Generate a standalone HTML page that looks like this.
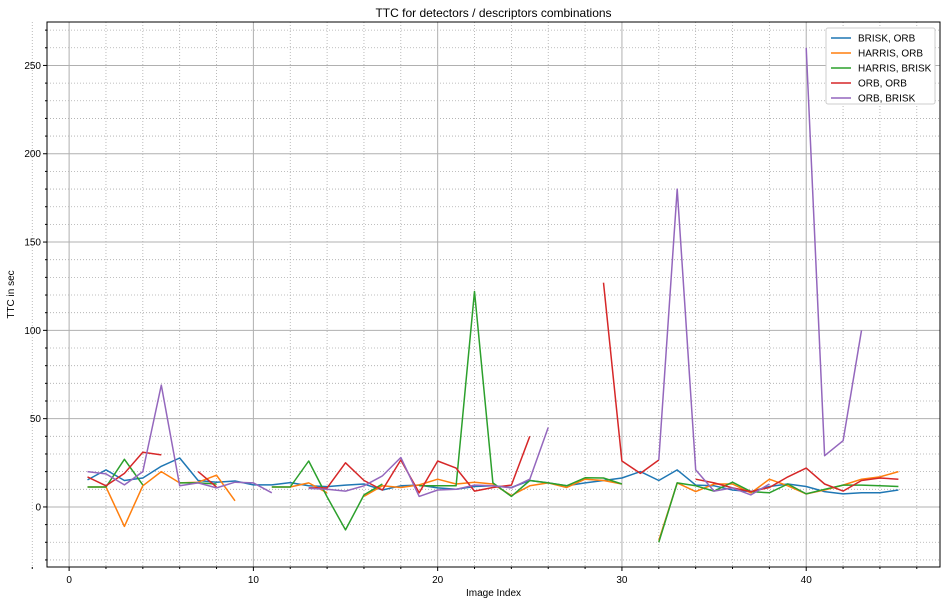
<!DOCTYPE html>
<html><head><meta charset="utf-8"><style>
body{margin:0;background:#fff;font-family:"Liberation Sans",sans-serif}
svg{display:block}
</style></head><body>
<svg id="chart" width="947" height="604"></svg>
<script>
const xIndices=[];for(let i=1;i<=45;i++)xIndices.push(i);
const seriesNames=["BRISK, ORB","HARRIS, ORB","HARRIS, BRISK","ORB, ORB","ORB, BRISK"];
const colors=["#1f77b4","#ff7f0e","#2ca02c","#d62728","#9467bd"];
const briskOrb=[15.3,21,15,16.4,23,27.7,15,14,14.7,12.5,12.5,13.8,12,11.5,12.4,13,9.6,12,12.4,10.8,10,11.6,12,11,15,13.6,12,13.6,15,16.4,20,15,21,12.4,12,9.6,8.7,11.6,13,11.6,8.7,7.4,8,8,9.6];
const harrisOrb=[11.3,11.3,-11,12,20,13.6,14,18,3.5,null,11.3,11.3,13.6,8,null,6,12,11,12.5,15.7,13,14,13,6.5,12,13.6,11,15.7,15,13,null,-19,13.6,8.7,13,13,7.9,15.7,12,7.4,9.6,12.4,15.7,17,20];
const harrisBrisk=[11.3,11.3,27,12.5,null,13.6,13.6,13,null,null,11.3,11.3,26,5.7,-13,6.8,13,null,12,12,12,122,13.6,6,15,13.6,12,16.5,16.4,13,null,-20,13.6,12,9,14,8.7,8,13,7.4,10,12.4,12.4,12,11.6];
const orbOrb=[17,12,19,31,29.5,null,20,11.3,null,null,null,null,10.8,10.8,25,15,9.6,26.6,8,26,22,9,11,12.4,40,null,null,null,127,26,19,26.6,null,15.7,13.6,10.8,8.7,11,17,22,13,9,15,16.4,15.7];
const orbBrisk=[20,18.7,12.5,20,69,12,13.6,10.8,14,13.6,8,null,10.5,10,9,12,17.6,28,6,9.6,10,12.4,12,10.8,15.7,45,null,null,null,null,null,26.6,180,21,9,10.8,6.8,13,null,260,29,37.5,100];
const allSeries=[briskOrb,harrisOrb,harrisBrisk,orbOrb,orbBrisk];
const xTicks=[0,10,20,30,40];
const yTicks=[0,50,100,150,200,250];

const L=47,R=940,T=22,B=567;
const xMin=-1.2,xMax=47.26,yMin=-34,yMax=274.6;
const sx=v=>L+(v-xMin)/(xMax-xMin)*(R-L);
const sy=v=>B-(v-yMin)/(yMax-yMin)*(B-T);
const svg=document.getElementById('chart');
const NS='http://www.w3.org/2000/svg';
function mk(tag,attrs,parent){const e=document.createElementNS(NS,tag);for(const k in attrs)e.setAttribute(k,attrs[k]);(parent||svg).appendChild(e);return e;}
mk('rect',{x:L,y:T,width:R-L,height:B-T,fill:'#fff'});
for(let v=-2;v<=46;v+=2){if(v%10===0)continue;const l=mk('line',{x1:sx(v),x2:sx(v),y1:T,y2:B,stroke:'#aaa','stroke-width':0.8,'stroke-dasharray':'1,2'});


mk('line',{x1:sx(v),x2:sx(v),y1:B,y2:B+2,stroke:'#000'});}
for(let v=-30;v<=270;v+=10){if(v%50===0)continue;const l=mk('line',{x1:L,x2:R,y1:sy(v),y2:sy(v),stroke:'#aaa','stroke-width':0.8,'stroke-dasharray':'1,2'});


mk('line',{x1:L-2,x2:L,y1:sy(v),y2:sy(v),stroke:'#000'});}
xTicks.forEach(v=>{const l=mk('line',{x1:sx(v),x2:sx(v),y1:T,y2:B,stroke:'#b0b0b0','stroke-width':1});


mk('line',{x1:sx(v),x2:sx(v),y1:B,y2:B+4,stroke:'#000'});
const t=mk('text',{x:sx(v),y:B+16,'text-anchor':'middle','font-size':10});t.textContent=v;

});
yTicks.forEach(v=>{const l=mk('line',{x1:L,x2:R,y1:sy(v),y2:sy(v),stroke:'#b0b0b0','stroke-width':1});


mk('line',{x1:L-4,x2:L,y1:sy(v),y2:sy(v),stroke:'#000'});
const t=mk('text',{x:L-6,y:sy(v)+3.5,'text-anchor':'end','font-size':10});t.textContent=v;

});
allSeries.forEach((s,si)=>{let d='',pen=false;
s.forEach((v,i)=>{if(v===null){pen=false;return;}d+=(pen?'L':'M')+sx(xIndices[i]).toFixed(1)+','+sy(v).toFixed(1);pen=true;});
const p=mk('path',{d:d,fill:'none',stroke:colors[si],'stroke-width':1.5,'stroke-linejoin':'round'});

});
const fr=mk('rect',{x:L,y:T,width:R-L,height:B-T,fill:'none',stroke:'#000','stroke-width':1});


const title=mk('text',{x:(L+R)/2,y:17,'text-anchor':'middle','font-size':12});title.textContent='TTC for detectors / descriptors combinations';


const xl=mk('text',{x:(L+R)/2,y:596,'text-anchor':'middle','font-size':10});xl.textContent='Image Index';


const yl=mk('text',{x:14,y:(T+B)/2,'text-anchor':'middle','font-size':10,transform:'rotate(-90 14 '+((T+B)/2)+')'});yl.textContent='TTC in sec';


const lg=mk('g',{});


mk('rect',{x:826,y:28,width:109,height:76,fill:'#fff',stroke:'#ccc',rx:2},lg);
seriesNames.forEach((n,i)=>{const y=38+i*15;
const e=mk('g',{},lg);


mk('line',{x1:831,x2:851,y1:y,y2:y,stroke:colors[i],'stroke-width':1.5},e);
const t=mk('text',{x:858,y:y+3.5,'font-size':10},e);t.textContent=n;});
</script>
</body></html>
